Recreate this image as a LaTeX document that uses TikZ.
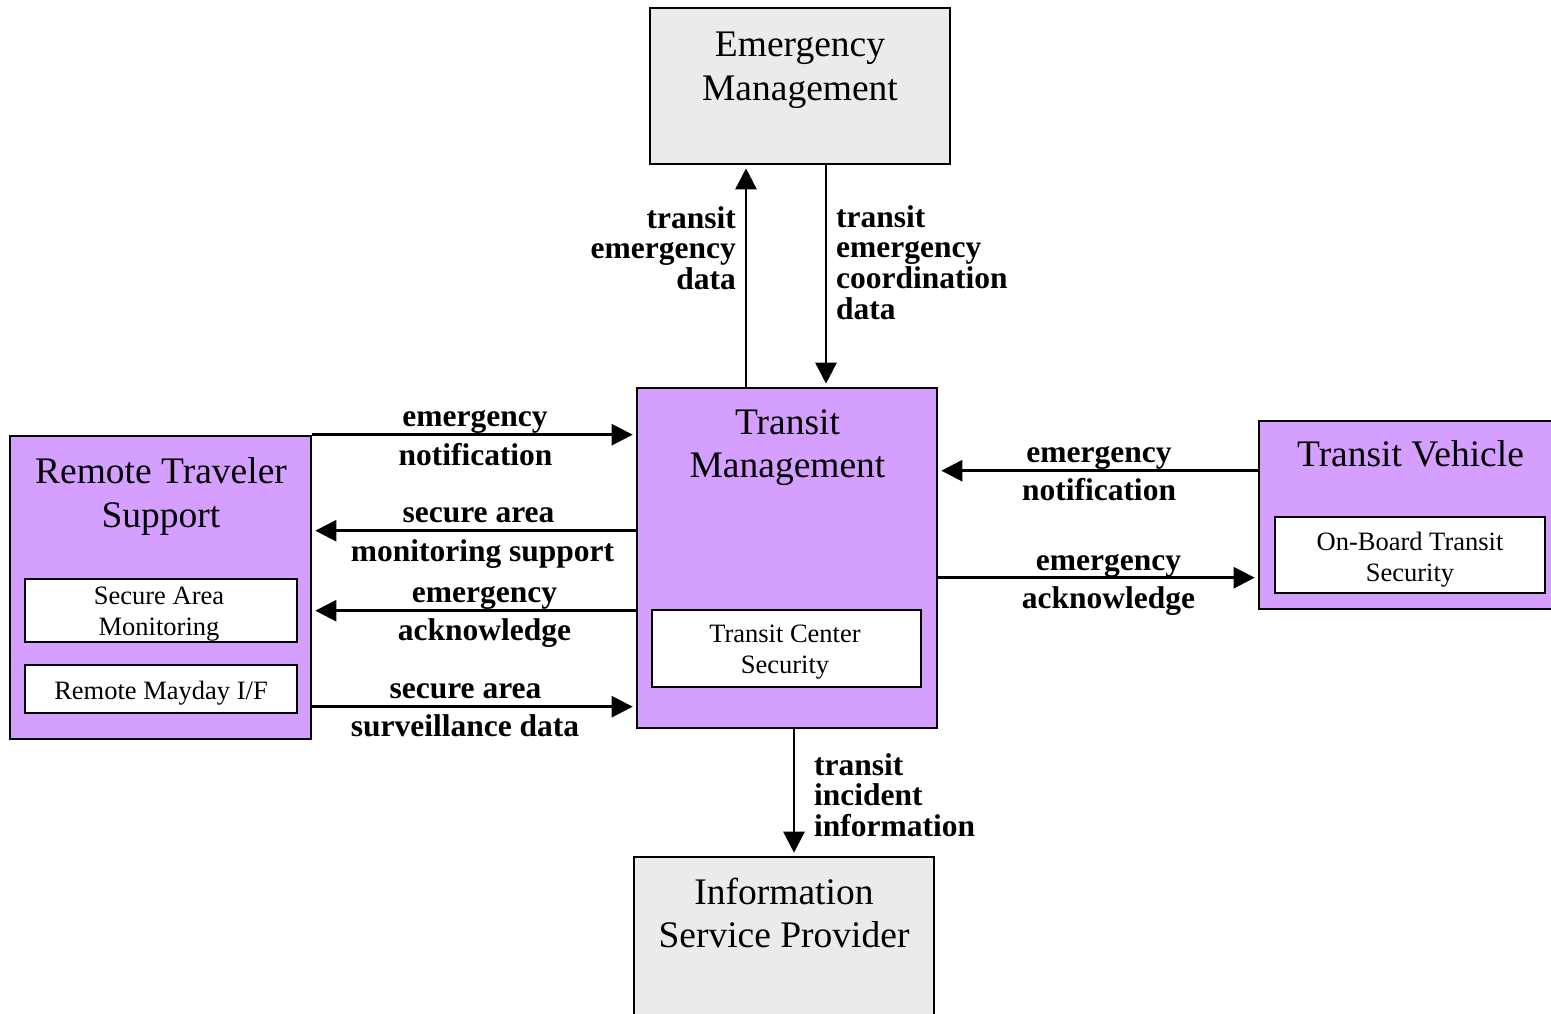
\documentclass[tikz,border=0pt]{standalone}
\usepackage{fontspec}
\setmainfont{Liberation Serif}
\usetikzlibrary{arrows.meta}
\definecolor{sysfill}{RGB}{212,159,255}
\definecolor{extfill}{RGB}{235,235,235}
\begin{document}
\begin{tikzpicture}[x=1pt,y=-1pt,
  frame/.style={draw=black, line width=2.6pt, inner sep=0pt, rectangle},
  sysbox/.style={frame, fill=sysfill},
  extbox/.style={frame, fill=extfill},
  subbox/.style={frame, fill=white, line width=2.4pt},
  title/.style={font=\fontsize{37.5}{43.5}\selectfont, align=center, inner sep=0pt},
  subtitle/.style={font=\fontsize{26.5}{31}\selectfont, align=center, inner sep=0pt},
  flowlabel/.style={font=\bfseries\fontsize{31.5}{30.7}\selectfont, inner sep=0pt},
  flow/.style={line width=2.6pt, -{Triangle[length=21pt,width=21pt]}, shorten >=3pt}
]
\useasboundingbox (0,0) rectangle (1551,1013);
\clip (0,0) rectangle (1551,1013);

% ---- subsystem and terminator boxes
\node[extbox, minimum width=300, minimum height=156] (em)   at (800,86) {};
\node[sysbox, minimum width=300, minimum height=340] (tm)   at (787,558) {};
\node[subbox, minimum width=269, minimum height=77]  (tcs)  at (786.5,648.5) {};
\node[sysbox, minimum width=301, minimum height=303] (rts)  at (160.5,587.5) {};
\node[subbox, minimum width=272, minimum height=63]  (sam)  at (161,610.5) {};
\node[subbox, minimum width=272, minimum height=48]  (rmi)  at (161,689) {};
\node[sysbox, minimum width=310, minimum height=188] (tv)   at (1414,515) {};
\node[subbox, minimum width=270, minimum height=76]  (obts) at (1410,555) {};
\node[extbox, minimum width=300, minimum height=180] (isp)  at (784,947) {};

% ---- box titles
\node[title, anchor=north] (emT)  at (800,32)    {Emergency\\Management};
\node[title, anchor=north] (tmT)  at (787.5,409) {Transit\\Management};
\node[title, anchor=north] (rtsT) at (161,457.5) {Remote Traveler\\Support};
\node[title, anchor=base]  (tvT)  at (1410.5,466) {Transit Vehicle};
\node[title, anchor=north] (ispT) at (784,877.5) {Information\\Service Provider};

\node[subtitle, anchor=north] (samT)  at (159,587)   {Secure Area\\Monitoring};
\node[subtitle, anchor=base]  (rmiT)  at (161,699)   {Remote Mayday I/F};
\node[subtitle, anchor=north] (tcsT)  at (785,625)   {Transit Center\\Security};
\node[subtitle, anchor=north] (obtsT) at (1410,532)  {On-Board Transit\\Security};

% ---- vertical flows
\coordinate (upX)   at ([xshift=-41pt]tm.north);
\coordinate (downX) at ([xshift=39pt]tm.north);
\coordinate (ispX)  at ([xshift=7pt]tm.south);
\draw[flow] (upX) -- (upX |- em.south);
\draw[flow] (downX |- em.south) -- (downX);
\draw[flow] (ispX) -- (ispX |- isp.north);

\node[flowlabel, anchor=north east, align=right] (l1) at (736,206)
  {transit\\emergency\\data};
\node[flowlabel, anchor=north west, align=left] (l2) at (836,205)
  {transit\\emergency\\coordination\\data};
\node[flowlabel, anchor=north west, align=left] (l3) at (814,753)
  {transit\\incident\\information};

% ---- horizontal flows, left side (offsets measured down from the top edge)
\coordinate (h1) at ([yshift=-48pt]tm.north west);
\coordinate (h2) at ([yshift=-144pt]tm.north west);
\coordinate (h3) at ([yshift=-224pt]tm.north west);
\coordinate (h4) at ([yshift=-320pt]tm.north west);
\draw[flow] (h1 -| rts.east) -- (h1);
\draw[flow] (h2) -- (h2 -| rts.east);
\draw[flow] (h3) -- (h3 -| rts.east);
\draw[flow] (h4 -| rts.east) -- (h4);

\node[flowlabel, anchor=base] (h1a) at (475,426.5) {emergency};
\node[flowlabel, anchor=base] (h1b) at (475.5,465) {notification};
\node[flowlabel, anchor=base] (h2a) at (478.5,522.5) {secure area};
\node[flowlabel, anchor=base] (h2b) at (482.5,561.5) {monitoring support};
\node[flowlabel, anchor=base] (h3a) at (484.5,602.5) {emergency};
\node[flowlabel, anchor=base] (h3b) at (484.5,640.5) {acknowledge};
\node[flowlabel, anchor=base] (h4a) at (465.5,698.5) {secure area};
\node[flowlabel, anchor=base] (h4b) at (465,736.5) {surveillance data};

% ---- horizontal flows, right side
\coordinate (r1) at ([yshift=-84pt]tm.north east);
\coordinate (r2) at ([yshift=-191pt]tm.north east);
\draw[flow] (r1 -| tv.west) -- (r1);
\draw[flow] (r2) -- (r2 -| tv.west);

\node[flowlabel, anchor=base] (r1a) at (1099,462.5) {emergency};
\node[flowlabel, anchor=base] (r1b) at (1099,500.5) {notification};
\node[flowlabel, anchor=base] (r2a) at (1108.5,570.5) {emergency};
\node[flowlabel, anchor=base] (r2b) at (1108.5,608.5) {acknowledge};
\end{tikzpicture}
\end{document}
